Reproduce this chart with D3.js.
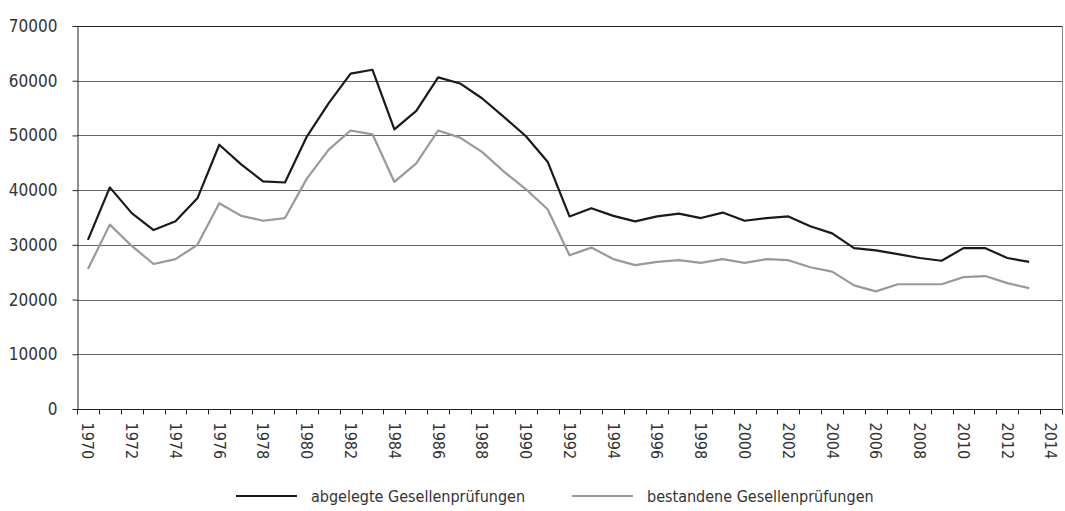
<!DOCTYPE html>
<html>
<head>
<meta charset="utf-8">
<script src="https://cdn.jsdelivr.net/npm/d3@7"></script>
<style>
  body { margin: 0; background: #fff; }
  svg text { font-family: "Liberation Sans Narrow", "DejaVu Sans Condensed", sans-serif; fill: #333; }
</style>
</head>
<body>
<script>

// Years on the category axis (1970 - 2014), data runs to 2013
const years = d3.range(1970, 2015);
const yTicks = [0, 10000, 20000, 30000, 40000, 50000, 60000, 70000];

const seriesNames = ["abgelegte Gesellenprüfungen", "bestandene Gesellenprüfungen"];

// abgelegte Gesellenprüfungen 1970-2013
const abgelegt = [
    30900, 40500, 35800, 32700, 34300, 38500, 48300, 44700, 41600, 41400,
    49800, 55900, 61300, 62000, 51100, 54500, 60600, 59500, 56800, 53400,
    49900, 45200, 35200, 36700, 35300, 34300, 35200, 35700, 34900, 35900,
    34400, 34900, 35200, 33400, 32100, 29400, 29000, 28300, 27600, 27100,
    29400, 29400, 27600, 26900
];

// bestandene Gesellenprüfungen 1970-2013
const bestanden = [
    25600, 33700, 29800, 26500, 27400, 30000, 37600, 35300, 34400, 34900,
    42100, 47400, 50900, 50200, 41500, 44900, 50900, 49600, 47000, 43400,
    40200, 36500, 28100, 29500, 27400, 26300, 26900, 27200, 26700, 27400,
    26700, 27400, 27200, 25900, 25100, 22600, 21500, 22800, 22800, 22800,
    24100, 24300, 23000, 22100
];

const width = 1065;
const height = 511;
const marginTop = 26;
const marginRight = 3;
const marginBottom = 102;
const marginLeft = 77;

// Category scale, points sit in the middle of each band
const x = d3.scaleBand(years, [marginLeft, width - marginRight]);
const y = d3.scaleLinear([0, 70000], [height - marginBottom, marginTop]);

const line = d3.line()
    .x((d, i) => x(years[i]) + x.bandwidth() / 2)
    .y(d => y(d));

const svg = d3.create("svg")
    .attr("width", width)
    .attr("height", height)
    .attr("viewBox", [0, 0, width, height]);

// Grid lines
svg.append("g")
    .selectAll("line")
    .data(yTicks.slice(1))
    .join("line")
    .attr("x1", marginLeft)
    .attr("x2", width - marginRight)
    .attr("y1", d => Math.round(y(d)) + 0.5)
    .attr("y2", d => Math.round(y(d)) + 0.5)
    .attr("stroke", d => d == 70000 ? "#222" : "#666")
    .attr("stroke-width", 1);

// right border
svg.append("line")
    .attr("x1", width - marginRight + 0.5)
    .attr("x2", width - marginRight + 0.5)
    .attr("y1", y(70000))
    .attr("y2", y(0))
    .attr("stroke", "#888");

// y axis
svg.append("g")
    .attr("transform", `translate(${marginLeft + 0.5},0)`)
    .call(d3.axisLeft(y).tickValues(yTicks).tickFormat(d3.format("d")).tickSize(5).tickSizeOuter(0).tickPadding(15))
    .call(g => g.select(".domain").attr("stroke", "#222"))
    .call(g => g.selectAll(".tick line").attr("stroke", "#222"))
    .call(g => g.selectAll(".tick text")
        .attr("font-size", "17px")
        .attr("font-family", null)
        .attr("fill", "#333"));

// x axis: ticks on band edges, labels every second year rotated
const xAxis = svg.append("g")
    .attr("transform", `translate(0,${Math.round(y(0)) + 0.5})`);

xAxis.append("line")
    .attr("x1", marginLeft)
    .attr("x2", width - marginRight)
    .attr("stroke", "#222");

xAxis.selectAll(".edge")
    .data(years.concat([2015]))
    .join("line")
    .attr("class", "edge")
    .attr("x1", d => Math.round(d == 2015 ? x.range()[1] : x(d)) + 0.5)
    .attr("x2", d => Math.round(d == 2015 ? x.range()[1] : x(d)) + 0.5)
    .attr("y1", 0)
    .attr("y2", 5)
    .attr("stroke", "#222");

xAxis.selectAll(".lab")
    .data(years.filter(d => d % 2 == 0))
    .join("text")
    .attr("class", "lab")
    .attr("transform", d => `translate(${x(d) + x.bandwidth() / 2},13) rotate(90)`)
    .attr("dy", "0.35em")
    .attr("text-anchor", "start")
    .attr("font-size", "16px")
    .text(d => d);

// lines
svg.append("path")
    .attr("fill", "none")
    .attr("stroke", "#999")
    .attr("stroke-width", 2.2)
    .attr("stroke-linejoin", "round")
    .attr("d", line(bestanden));

svg.append("path")
    .attr("fill", "none")
    .attr("stroke", "#1a1a1a")
    .attr("stroke-width", 2.2)
    .attr("stroke-linejoin", "round")
    .attr("d", line(abgelegt));

// legend
const legendItems = [
    {name: seriesNames[0], color: "#1a1a1a", x: 236},
    {name: seriesNames[1], color: "#999", x: 572}
];

const legend = svg.append("g")
    .selectAll("g")
    .data(legendItems)
    .join("g")
    .attr("transform", d => `translate(${d.x},496)`);

legend.append("line")
    .attr("x1", 0)
    .attr("x2", 61)
    .attr("stroke", d => d.color)
    .attr("stroke-width", 2.2);

legend.append("text")
    .attr("x", 75)
    .attr("dy", "0.35em")
    .attr("font-size", "16px")
    .text(d => d.name);

document.body.appendChild(svg.node());

</script>
</body>
</html>
